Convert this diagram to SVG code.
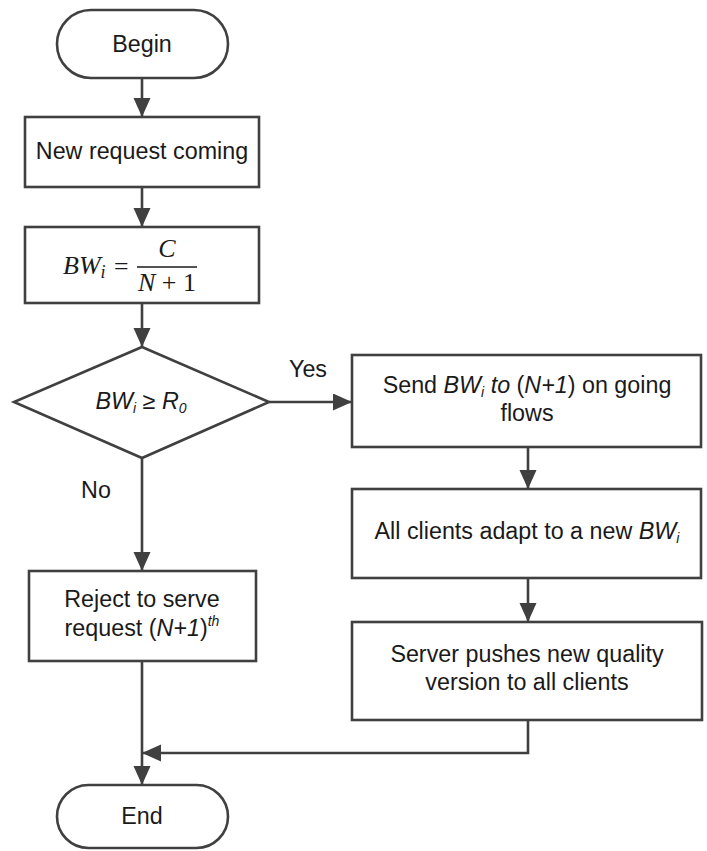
<svg xmlns="http://www.w3.org/2000/svg" width="707" height="851" viewBox="0 0 707 851">
<style>
.shape{fill:#fff;stroke:#404040;stroke-width:2.6}
.conn{fill:none;stroke:#404040;stroke-width:2.6}
.t{font-family:"Liberation Sans",Arial,sans-serif;font-size:23.3px;fill:#1a1a1a;text-anchor:middle}
.m{font-family:"Liberation Serif","Times New Roman",serif;font-style:italic;font-size:26px;fill:#1a1a1a}
.it{font-style:italic}
</style>
<defs>
<marker id="arr" markerUnits="userSpaceOnUse" markerWidth="20" markerHeight="18" refX="19" refY="8.5" orient="auto">
<path d="M0,0 L19,8.5 L0,17 z" fill="#404040"/>
</marker>
</defs>
<g id="connectors">
<line class="conn" x1="142" y1="78" x2="142" y2="117" marker-end="url(#arr)"/>
<line class="conn" x1="142" y1="187" x2="142" y2="227" marker-end="url(#arr)"/>
<line class="conn" x1="142" y1="303" x2="142" y2="347" marker-end="url(#arr)"/>
<line class="conn" x1="269" y1="402" x2="352" y2="402" marker-end="url(#arr)"/>
<line class="conn" x1="142" y1="458" x2="142" y2="571" marker-end="url(#arr)"/>
<line class="conn" x1="528" y1="447" x2="528" y2="489" marker-end="url(#arr)"/>
<line class="conn" x1="528" y1="578" x2="528" y2="622" marker-end="url(#arr)"/>
<line class="conn" x1="142" y1="661" x2="142" y2="785" marker-end="url(#arr)"/>
<polyline class="conn" points="528,720 528,753 142,753" marker-end="url(#arr)"/>
<text class="t" x="308" y="377">Yes</text>
<text class="t" x="96" y="498">No</text>
</g>
<g id="begin">
<rect class="shape" x="57" y="10" width="171" height="68" rx="34"/>
<text class="t" x="142" y="52">Begin</text>
</g>
<g id="new-request">
<rect class="shape" x="25" y="117" width="234" height="70"/>
<text class="t" x="142" y="159">New request coming</text>
</g>
<g id="compute-bw">
<rect class="shape" x="25" y="227" width="234" height="76"/>
<text class="m" x="63" y="274">BW<tspan font-size="18" dy="4">i</tspan></text>
<text class="m" x="121" y="275" text-anchor="middle" font-style="normal">=</text>
<line x1="137" y1="267" x2="197" y2="267" stroke="#1a1a1a" stroke-width="1.5"/>
<text class="m" x="167" y="257" text-anchor="middle">C</text>
<text class="m" x="167" y="291" text-anchor="middle">N<tspan font-style="normal"> + 1</tspan></text>
</g>
<g id="decision">
<polygon class="shape" points="142,347 269,402 142,458 14,402"/>
<text class="t" x="141" y="409"><tspan class="it">BW</tspan><tspan class="it" font-size="14" dy="4">i</tspan><tspan dy="-4"> ≥ </tspan><tspan class="it">R</tspan><tspan class="it" font-size="14" dy="4">0</tspan></text>
</g>
<g id="send-bw">
<rect class="shape" x="352" y="355" width="349" height="92"/>
<text class="t" x="527" y="393">Send <tspan class="it">BW</tspan><tspan class="it" font-size="14" dy="4">i</tspan><tspan class="it" dy="-4"> to</tspan> (<tspan class="it">N+1</tspan>) on going</text>
<text class="t" x="527" y="421">flows</text>
</g>
<g id="adapt">
<rect class="shape" x="352" y="489" width="349" height="89"/>
<text class="t" x="527" y="539">All clients adapt to a new <tspan class="it">BW</tspan><tspan class="it" font-size="14" dy="4">i</tspan></text>
</g>
<g id="push">
<rect class="shape" x="352" y="622" width="350" height="98"/>
<text class="t" x="527" y="662">Server pushes new quality</text>
<text class="t" x="527" y="690">version to all clients</text>
</g>
<g id="reject">
<rect class="shape" x="29" y="571" width="227" height="90"/>
<text class="t" x="142" y="607">Reject to serve</text>
<text class="t" x="142" y="636">request (<tspan class="it">N+1</tspan>)<tspan class="it" font-size="14" dy="-10">th</tspan></text>
</g>
<g id="end">
<rect class="shape" x="57" y="785" width="171" height="63" rx="31.5"/>
<text class="t" x="142" y="824">End</text>
</g>
</svg>
